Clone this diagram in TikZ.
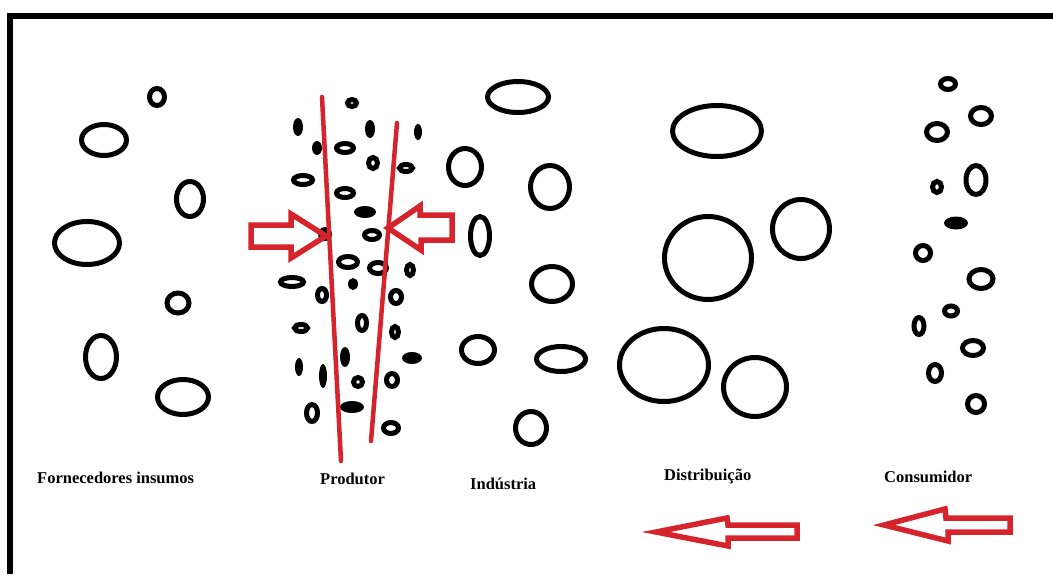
\documentclass[tikz,border=0pt]{standalone}
\usepackage{fontspec}
\setmainfont{Liberation Serif}
\definecolor{arrowred}{RGB}{214,36,44}
\begin{document}
\begin{tikzpicture}[x=1pt,y=-1pt,
  ring/.style={draw=black,line width=5pt},
  blob/.style={fill=black},
  redline/.style={draw=arrowred,line width=4.5pt,line cap=round},
  redarrow/.style={draw=arrowred,line width=5.5pt,line join=miter},
  frameline/.style={draw=black,line width=6pt},
  label/.style={anchor=west,inner sep=0pt,font=\bfseries\fontsize{16.5}{18}\selectfont}]
\useasboundingbox (0,0) rectangle (1053,574);
\fill[white] (0,0) rectangle (1053,574);
% frame
\coordinate (ftl) at (7,16);
\coordinate (ftr) at (1053,16);
\coordinate (flt) at (10,13);
\coordinate (flb) at (10,574);
\draw[frameline] (ftl) -- (ftr);
\draw[frameline] (flt) -- (flb);
% ring macro: outer radii given, subtract half stroke
\newcommand\rg[4]{\draw[ring] (#1,#2) ellipse [x radius={#3-2.5}, y radius={#4-2.5}];}
\newcommand\bl[4]{\fill[blob] (#1,#2) ellipse [x radius=#3, y radius=#4];}
% Fornecedores insumos
\rg{157}{97}{10}{11}
\rg{104}{140}{25}{18}
\rg{190}{199}{16}{20}
\rg{87}{243}{35}{24}
\rg{178}{303}{13.5}{12.5}
\rg{101}{357}{18}{24}
\rg{183}{397}{28}{20}
% Produtor
\rg{352}{103}{7}{6}
\bl{298}{127}{5}{9}
\bl{370}{129}{5}{9}
\bl{418}{132}{4}{8}
\bl{317}{148}{5}{7}
\rg{345}{148}{11}{7}
\rg{373}{163}{7}{8}
\rg{406}{168}{9}{6}
\rg{303}{180}{12}{7}
\rg{345}{193}{11}{7}
\bl{365}{212}{11}{6}
\bl{325}{234}{7}{7}
\rg{372}{235}{10}{7}
\rg{348}{262}{12}{8}
\rg{378}{268}{11}{8}
\rg{410}{270}{6}{8}
\rg{292}{282}{14}{7}
\bl{353}{284}{5}{6}
\rg{322}{295}{7}{9}
\rg{396}{297}{8}{9}
\rg{362}{323}{7}{10}
\rg{301}{328}{9}{6}
\rg{395}{332}{6}{8}
\bl{345}{357}{5}{10}
\bl{412}{358}{10}{6}
\bl{299}{367}{4}{9}
\bl{323}{376}{4}{12}
\rg{358}{382}{7}{7}
\rg{392}{380}{8}{9}
\rg{312}{413}{8}{11}
\bl{352}{407}{12}{6}
\rg{391}{428}{10}{8}
% Industria
\rg{518}{97}{33}{18}
\rg{465}{167}{19}{21}
\rg{550}{187}{22}{24}
\rg{480}{236}{12}{22}
\rg{552}{284}{23}{20}
\rg{478}{350}{19}{16}
\rg{561}{359}{27}{15}
\rg{531}{428}{18}{19}
% Distribuicao
\rg{717}{131}{47}{28}
\rg{708}{258}{46}{44}
\rg{801}{229}{31}{32}
\rg{664}{365}{47}{39}
\rg{755}{387}{34}{32}
% Consumidor
\rg{948}{84}{10}{8}
\rg{981}{116}{13}{11}
\rg{937}{132}{13}{11}
\rg{937}{187}{7}{8}
\rg{976}{180}{12.5}{17}
\bl{956}{223}{12}{6.5}
\rg{923}{253}{10}{10}
\rg{981}{279}{14.5}{12}
\rg{951}{311}{9}{7.5}
\rg{919}{326}{7.5}{11}
\rg{973}{348}{13}{10}
\rg{935}{373}{9}{11}
\rg{976}{404}{11}{11}
% red funnel lines
\coordinate (l1a) at (322,97);
\coordinate (l1b) at (341,461);
\coordinate (l2a) at (397,123);
\coordinate (l2b) at (371,441);
\draw[redline] (l1a) -- (l1b);
\draw[redline] (l2a) -- (l2b);
% red hollow arrows
\draw[redarrow] (251,225) -- (291,225) -- (291,214) -- (326,236) -- (291,258) -- (291,247) -- (251,247) -- cycle;
\draw[redarrow] (452,215) -- (420,215) -- (420,206) -- (388,228) -- (421,250) -- (421,240) -- (452,240) -- cycle;
\draw[redarrow] (797,525) -- (728,525) -- (727,518) -- (656,532) -- (728,546) -- (728,538) -- (797,538) -- cycle;
\draw[redarrow] (1010,518) -- (946,518) -- (945,509) -- (884,525) -- (948,541) -- (948,532) -- (1010,532) -- cycle;
% labels
\node[label] (forn) at (37,478) {Fornecedores insumos};
\node[label] (prod) at (320,479) {Produtor};
\node[label] (ind) at (470,484) {Indústria};
\node[label] (dist) at (664,476) {Distribuição};
\node[label] (cons) at (884,477) {Consumidor};
\end{tikzpicture}
\end{document}
